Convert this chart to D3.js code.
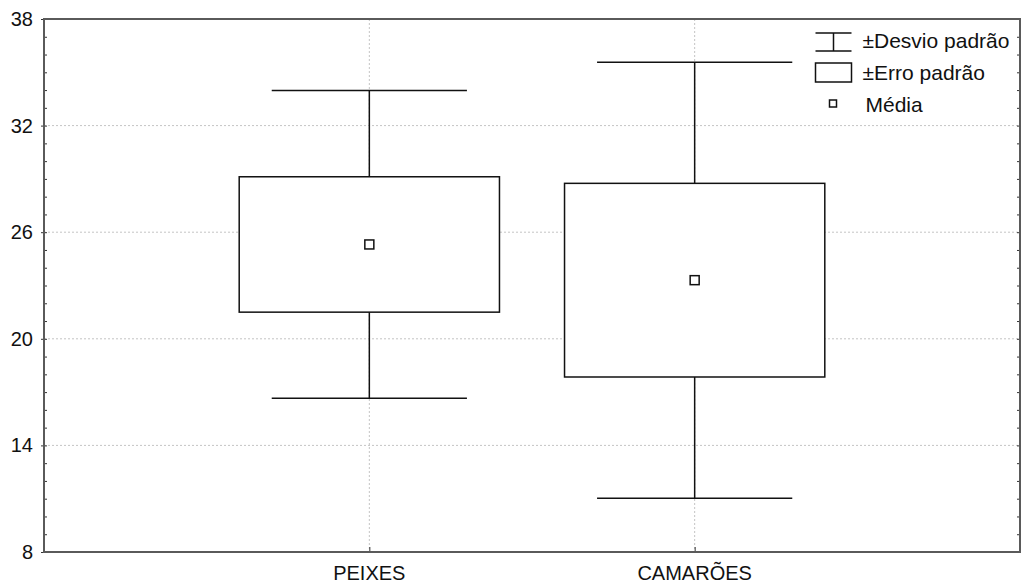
<!DOCTYPE html>
<html>
<head>
<meta charset="utf-8">
<script src="https://cdn.jsdelivr.net/npm/d3@7"></script>
<style>
  body { margin: 0; background: #fff; }
  svg { display: block; font-family: "Liberation Sans", Arial, sans-serif; }
  .grid line { stroke: #c4c4c4; stroke-width: 1; stroke-dasharray: 2,2; }
  .frame { fill: none; stroke: #5a5a5a; stroke-width: 2; }
  .mark { stroke: #111; stroke-width: 1.5; fill: #fff; }
  .label { font-size: 20px; fill: #111; }
  .legend .label { font-size: 21px; }
</style>
</head>
<body>
<div id="chart"></div>
<script>
/*
** Data
*/
var categories = ["PEIXES", "CAMARÕES"]
  , means = [25.31, 23.30]
  , stdErr = [3.81, 5.45]   // ±Erro padrão
  , stdDev = [8.66, 12.27]  // ±Desvio padrão
  , yTicks = [8, 14, 20, 26, 32, 38]
  , legendLabels = ["±Desvio padrão", "±Erro padrão", "Média"]
;

/*
** Layout
*/
var width = 1022
  , height = 587
  , margin = { top: 19, right: 2, bottom: 35, left: 44 }
  , w = width - margin.left - margin.right
  , h = height - margin.top - margin.bottom
  , rows = categories.map(function(c, i) {
        return { key: c, mean: means[i], se: stdErr[i], sd: stdDev[i] };
      })
;

var x = d3.scalePoint().domain(categories).range([0, w]).padding(1)
  , y = d3.scaleLinear().domain([8, 38]).range([h, 0])
  , step = x.step()
  , boxW = step * 0.8
  , capW = step * 0.6
;

var svg = d3.select("#chart").append("svg")
    .attr("width", width)
    .attr("height", height)
;
var g = svg.append("g")
    .attr("transform", "translate(" + margin.left + "," + margin.top + ")")
;

// gridlines
var grid = g.append("g").attr("class", "grid");
grid.selectAll(".gy")
    .data(yTicks.slice(1, -1))
  .enter().append("line")
    .attr("x1", 0).attr("x2", w)
    .attr("y1", function(d) { return y(d); })
    .attr("y2", function(d) { return y(d); })
;
grid.selectAll(".gx")
    .data(categories)
  .enter().append("line")
    .attr("x1", function(d) { return x(d); })
    .attr("x2", function(d) { return x(d); })
    .attr("y1", 0).attr("y2", h)
;

// minor ticks (inside, both sides)
var minor = d3.range(8, 39, 1);
g.append("g")
    .call(d3.axisRight(y).tickValues(minor).tickSize(3).tickFormat(""))
    .call(function(s) { s.select(".domain").remove(); s.selectAll("line").attr("stroke", "#333"); })
;
g.append("g")
    .attr("transform", "translate(" + w + ",0)")
    .call(d3.axisLeft(y).tickValues(minor).tickSize(3).tickFormat(""))
    .call(function(s) { s.select(".domain").remove(); s.selectAll("line").attr("stroke", "#333"); })
;

// y axis labels
g.append("g")
    .call(d3.axisLeft(y).tickValues(yTicks).tickSize(3).tickPadding(8))
    .call(function(s) {
        s.select(".domain").remove();
        s.selectAll("line").attr("stroke", "#333");
        s.selectAll("text").attr("class", "label").attr("fill", "#111");
      })
;

// x axis labels
g.append("g")
    .attr("transform", "translate(0," + h + ")")
    .call(d3.axisTop(x).tickSize(5).tickFormat(""))
    .call(function(s) { s.select(".domain").remove(); s.selectAll("line").attr("stroke", "#333"); })
;
g.selectAll(".xlab")
    .data(categories)
  .enter().append("text")
    .attr("class", "label")
    .attr("text-anchor", "middle")
    .attr("x", function(d) { return x(d); })
    .attr("y", h + 28)
    .text(function(d) { return d; })
;

// whiskers, boxes, means
var box = g.selectAll(".box")
    .data(rows)
  .enter().append("g")
    .attr("transform", function(d) { return "translate(" + x(d.key) + ",0)"; })
;
box.append("line")
    .attr("class", "mark")
    .attr("y1", function(d) { return y(d.mean + d.sd); })
    .attr("y2", function(d) { return y(d.mean - d.sd); })
;
box.selectAll(".cap")
    .data(function(d) { return [d.mean + d.sd, d.mean - d.sd]; })
  .enter().append("line")
    .attr("class", "mark")
    .attr("x1", -capW / 2).attr("x2", capW / 2)
    .attr("y1", function(v) { return y(v); })
    .attr("y2", function(v) { return y(v); })
;
box.append("rect")
    .attr("class", "mark")
    .attr("x", -boxW / 2)
    .attr("width", boxW)
    .attr("y", function(d) { return y(d.mean + d.se); })
    .attr("height", function(d) { return y(d.mean - d.se) - y(d.mean + d.se); })
;
box.append("rect")
    .attr("class", "mark")
    .attr("stroke", "#000")
    .attr("stroke-width", 2)
    .attr("x", -4.5).attr("width", 9)
    .attr("y", function(d) { return y(d.mean) - 4.5; })
    .attr("height", 9)
;

// frame
g.append("rect")
    .attr("class", "frame")
    .attr("width", w)
    .attr("height", h)
;

/*
** Legend
*/
var legend = g.append("g")
    .attr("class", "legend")
    .attr("transform", "translate(" + (815.5 - margin.left) + "," + (33 - margin.top) + ")")
;
legend.append("path")
    .attr("class", "mark")
    .attr("fill", "none")
    .attr("stroke", "#333")
    .attr("d", "M0,0H36M0,18H36M18,0V18")
;
legend.append("rect")
    .attr("class", "mark")
    .attr("stroke", "#333")
    .attr("x", 0).attr("y", 30)
    .attr("width", 36).attr("height", 19)
;
legend.append("rect")
    .attr("class", "mark")
    .attr("stroke", "#000")
    .attr("stroke-width", 2)
    .attr("x", 14).attr("y", 67)
    .attr("width", 7).attr("height", 7)
;
legend.selectAll(".ltext")
    .data(legendLabels)
  .enter().append("text")
    .attr("class", "label")
    .attr("x", function(d, i) { return i === 2 ? 50 : 47; })
    .attr("y", function(d, i) { return 15 + i * 32; })
    .text(function(d) { return d; })
;
</script>
</body>
</html>
